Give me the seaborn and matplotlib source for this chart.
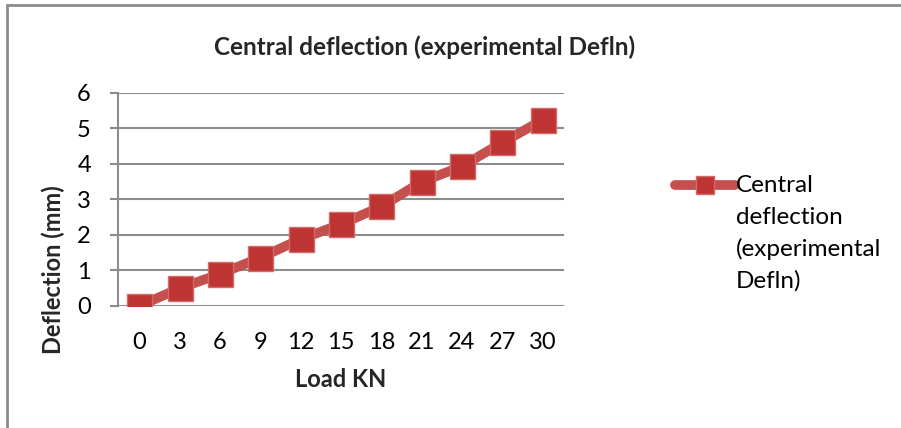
import matplotlib
matplotlib.use("Agg")
import matplotlib.pyplot as plt
from matplotlib.lines import Line2D
import seaborn as sns
import pandas as pd

# ---- data ----
load_kn = ["0", "3", "6", "9", "12", "15", "18", "21", "24", "27", "30"]
deflection = [0, 0.5, 0.9, 1.36, 1.88, 2.3, 2.8, 3.49, 3.93, 4.6, 5.23]
series_name = "Central deflection (experimental Defln)"
legend_lines = ["Central", "deflection", "(experimental", "Defln)"]
y_ticks = [0, 1, 2, 3, 4, 5, 6]

df = pd.DataFrame({"Load KN": load_kn, "Deflection": deflection})

sns.set_style("white")
plt.rcParams["font.family"] = ["Lato", "DejaVu Sans"]

W, H = 901, 428
fig = plt.figure(figsize=(W / 100, H / 100), dpi=100)
ax = fig.add_axes([118 / W, 1 - 306 / H, 446 / W, 213.3 / H])

line_color = "#C44F4D"
face_color = "#BE3433"
edge_color = "#D46A68"

sns.lineplot(data=df, x="Load KN", y="Deflection", ax=ax, sort=False,
             color=line_color, linewidth=7, marker="s", markersize=18,
             markerfacecolor=face_color, markeredgecolor=edge_color,
             markeredgewidth=1.0, solid_capstyle="round", zorder=3)

ax.set_xlim(-0.53, 10.53)
ax.set_ylim(0, 6)
ax.set_yticks(y_ticks)
ax.set_yticklabels([str(t) for t in y_ticks])

ax.grid(axis="y", color="#8C8C8C", linewidth=1.5)
ax.grid(axis="x", visible=False)
ax.set_axisbelow(True)
for s in ["top", "right", "bottom"]:
    ax.spines[s].set_visible(False)
ax.spines["left"].set_color("#8C8C8C")
ax.spines["left"].set_linewidth(1.5)

ax.tick_params(axis="y", which="both", left=True, length=6, width=1.5,
               color="#8C8C8C", pad=13.5, labelsize=17, labelcolor="black")
ax.tick_params(axis="x", which="both", bottom=False, length=0, pad=18.5,
               labelsize=17, labelcolor="black")

ax.set_xlabel("Load KN", fontsize=17, fontweight="bold", labelpad=11)
ax.set_ylabel("Deflection (mm)", fontsize=17, fontweight="bold")
ax.yaxis.label.set_va("center")
ax.yaxis.set_label_coords((53 - 118) / 446, (306 - 270) / 213.3)

fig.suptitle(series_name, x=425 / W, y=1 - 47 / H, va="center",
             fontsize=17.5, fontweight="bold")

# legend (drawn manually so the marker sits beside the first text line)
lx0, lx1, ly = 675, 735, 185
fig.add_artist(Line2D([lx0 / W, lx1 / W], [1 - ly / H, 1 - ly / H],
                      color=line_color, linewidth=7, solid_capstyle="round",
                      transform=fig.transFigure))
fig.add_artist(Line2D([(lx0 + lx1) / 2 / W], [1 - ly / H], marker="s",
                      markersize=13, markerfacecolor=face_color,
                      markeredgecolor=edge_color, linestyle="none",
                      transform=fig.transFigure))
for i, txt in enumerate(legend_lines):
    fig.text(736 / W, 1 - (186 + 31.5 * i) / H, txt, ha="left", va="center",
             fontsize=17.5, color="black")

# chart border (left and top visible)
fig.add_artist(Line2D([6.5 / W, 6.5 / W], [0, 1 - 5 / H],
                      color="#8C8C8C", linewidth=2, transform=fig.transFigure))
fig.add_artist(Line2D([6.5 / W, 1], [1 - 5 / H, 1 - 5 / H],
                      color="#8C8C8C", linewidth=2, transform=fig.transFigure))

fig.savefig("out.png", dpi=100, facecolor="white")
